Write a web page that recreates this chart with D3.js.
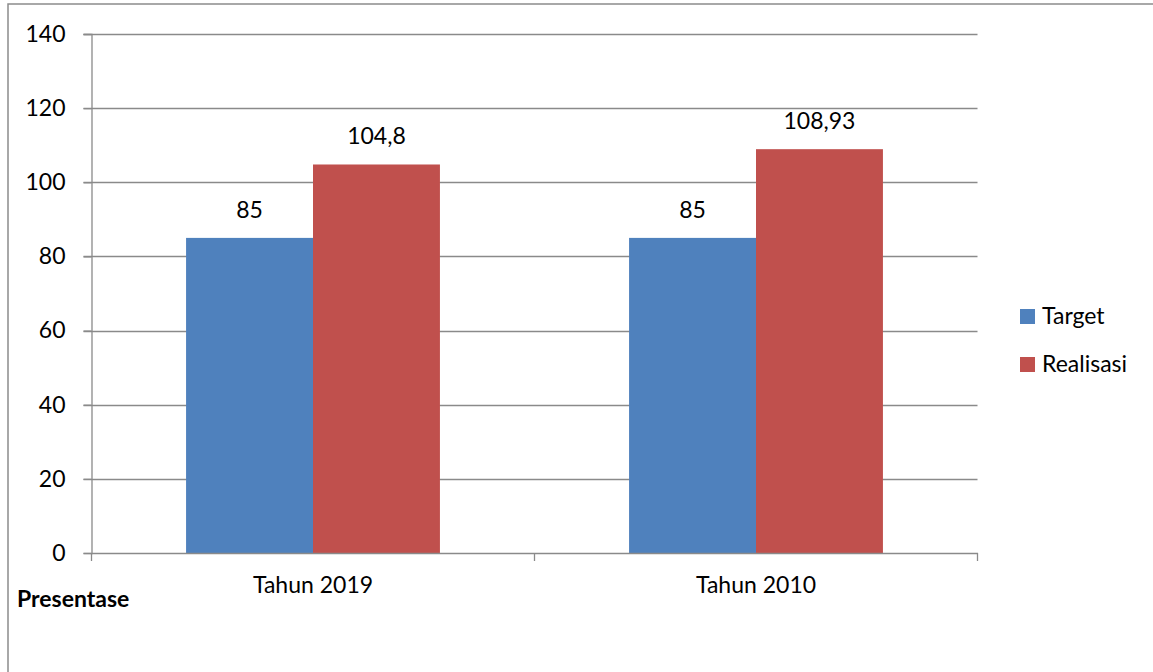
<!DOCTYPE html>
<html><head><meta charset="utf-8">
<script src="https://cdn.jsdelivr.net/npm/d3@7"></script>
<style>body{margin:0;background:#fff}svg{display:block}text{font-family:Lato,"Open Sans",sans-serif}</style>
</head><body>
<svg id="c" width="1153" height="672"></svg>
<script>
const categories = ["Tahun 2019", "Tahun 2010"];
const seriesNames = ["Target", "Realisasi"];
const targetValues = [85, 85];
const realisasiValues = [104.8, 108.93];
const valueLabels = [["85", "104,8"], ["85", "108,93"]];
const yTicks = [0, 20, 40, 60, 80, 100, 120, 140];
const colors = ["#4F81BD", "#C0504D"];

(function () {
const svg = d3.select("#c");
const pLeft = 91.5, pRight = 977.5, pTop = 34, pBottom = 553;
const fs = 23;

svg.append("rect").attr("x", 8).attr("y", 4).attr("width", 1200).attr("height", 700)
  .attr("fill", "#fff").attr("stroke", "#8c8c8c").attr("stroke-width", 1.5);

const y = d3.scaleLinear().domain([0, 140]).range([pBottom, pTop]);
const x0 = d3.scaleBand().domain(categories).range([pLeft, pRight]).paddingInner(0).paddingOuter(0);
const x1 = d3.scaleBand().domain(seriesNames).range([0, x0.bandwidth()]).paddingInner(0).paddingOuter(0.745);

// gridlines
svg.append("g").selectAll("line").data(yTicks.filter(d => d > 0)).join("line")
  .attr("x1", pLeft - 8).attr("x2", pRight).attr("y1", d => Math.round(y(d)) + 0.5).attr("y2", d => Math.round(y(d)) + 0.5)
  .attr("stroke", "#8a8a8a").attr("stroke-width", 1.3);

// y axis
const yAxis = svg.append("g").attr("transform", `translate(${pLeft},0)`)
  .call(d3.axisLeft(y).tickValues(yTicks).tickSize(8).tickPadding(18));
yAxis.select(".domain").attr("stroke", "#8a8a8a").attr("stroke-width", 1.3);
yAxis.selectAll(".tick line").attr("stroke", "#8a8a8a").attr("stroke-width", 1.3);
yAxis.selectAll(".tick text").attr("font-size", fs).attr("fill", "#000").attr("font-family", "Lato");

// bars
const data = categories.map((c, i) => ({cat: c, vals: [targetValues[i], realisasiValues[i]], labels: valueLabels[i]}));
const grp = svg.append("g").selectAll("g").data(data).join("g")
  .attr("transform", d => `translate(${x0(d.cat)},0)`);
grp.selectAll("rect").data(d => d.vals.map((v, j) => ({v, s: seriesNames[j], j}))).join("rect")
  .attr("x", d => x1(d.s)).attr("width", x1.bandwidth())
  .attr("y", d => y(d.v)).attr("height", d => y(0) - y(d.v))
  .attr("fill", d => colors[d.j]);
grp.selectAll("text").data(d => d.vals.map((v, j) => ({v, s: seriesNames[j], l: d.labels[j]}))).join("text")
  .attr("x", d => x1(d.s) + x1.bandwidth() / 2).attr("y", d => y(d.v) - 20)
  .attr("text-anchor", "middle").attr("font-size", fs).attr("fill", "#000").text(d => d.l);

// x axis
const xAxis = svg.append("g").attr("transform", `translate(0,${pBottom})`)
  .call(d3.axisBottom(x0).tickSize(0).tickPadding(24));
xAxis.select(".domain").attr("stroke", "#8a8a8a").attr("stroke-width", 1.3);
xAxis.selectAll(".tick text").attr("font-size", fs).attr("fill", "#000").attr("font-family", "Lato");
svg.append("g").selectAll("line").data([x0.range()[0], x0(categories[1]), x0.range()[1]]).join("line")
  .attr("x1", d => d).attr("x2", d => d).attr("y1", pBottom).attr("y2", pBottom + 8)
  .attr("stroke", "#8a8a8a").attr("stroke-width", 1.3);

// axis title
svg.append("text").attr("x", 17).attr("y", 607).attr("font-size", fs).attr("font-weight", "bold")
  .attr("fill", "#000").text("Presentase");

// legend
const lg = svg.append("g").selectAll("g").data(seriesNames).join("g")
  .attr("transform", (d, i) => `translate(1020,${309 + i * 48})`);
lg.append("rect").attr("width", 15).attr("height", 15).attr("fill", (d, i) => colors[i]);
lg.append("text").attr("x", 22).attr("y", 15).attr("font-size", fs).attr("fill", "#000").text(d => d);
})();
</script>
</body></html>
